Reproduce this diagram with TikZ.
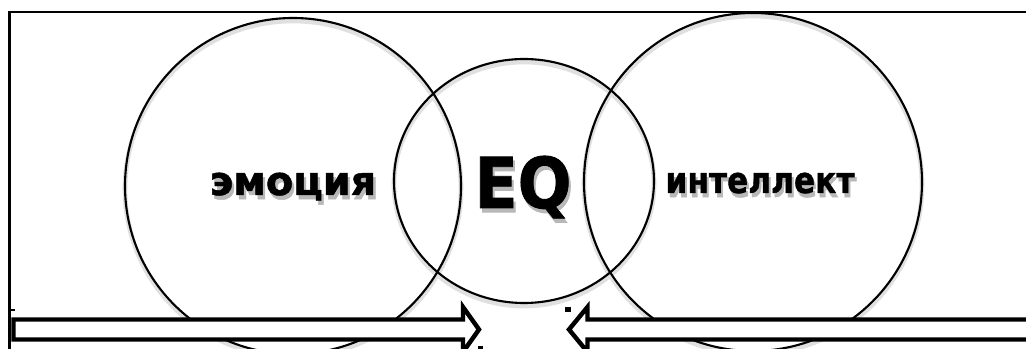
\documentclass[tikz,border=0pt]{standalone}
\usepackage{fontspec}
\setmainfont{DejaVu Sans}
\newfontfamily\heavy{DejaVu Sans Bold}[FakeBold=1.2]
\usepackage{tikz}
\usetikzlibrary{positioning,calc}
\definecolor{ink}{HTML}{000000}
\newcommand{\hazed}[1]{\rlap{\kern2pt\raisebox{-3.5pt}{\color{black!28}#1}}#1}
\tikzset{
  ring/.style={draw=ink, line width=1.8pt},
  ringhaze/.style={draw=black!12, line width=4pt},
  block/.style={draw=ink, line width=3.8pt, line join=miter, fill=white},
  word/.style={inner sep=0pt, anchor=base, text=ink},
}

\begin{document}
\begin{tikzpicture}[x=0.03cm, y=-0.03cm]
\useasboundingbox (0,0) rectangle (1026,349);
\fill[white] (0,0) rectangle (1026,349);
% frame
\draw[ink, line width=2.1pt] (9.5,349) -- (9.5,12) -- (1026,12);
\draw[ink, line width=2.1pt] (9.5,310) -- (15,310);
% circles, with a soft halo under each
\draw[ringhaze] (293,189) circle [radius=168];
\draw[ringhaze] (524,184) ellipse [x radius=130, y radius=122];
\draw[ringhaze] (753,185) circle [radius=169];
\draw[ring] (293,186) circle [radius=168];
\draw[ring] (524,181) ellipse [x radius=130, y radius=122];
\draw[ring] (753,182) circle [radius=169];
% labels
\node[word, font=\heavy\fontsize{34}{34}\selectfont] (emotion) at (293,195)
  {\hazed{эмоция}};
\node[word, font=\heavy\fontsize{60}{60}\selectfont] (eq) at (523,208)
  {\scalebox{0.9}[1]{\hazed{EQ}}};
\node[word, font=\heavy\fontsize{31}{31}\selectfont] (intellect) at (760,193)
  {\scalebox{0.86}[1]{\hazed{интеллект}}};
% arrows
\draw[block] (13.5,319.5) -- (463,319.5) -- (463,307) -- (479,329.5)
  -- (463,352) -- (463,339.5) -- (13.5,339.5) -- cycle;
\draw[block] (1040,319.5) -- (587.5,319.5) -- (587.5,307) -- (569,329.5)
  -- (587.5,352) -- (587.5,339.5) -- (1040,339.5);
% stray marks
\fill[ink] (478,346) rectangle (483,349);
\fill[ink] (565,307) rectangle (571,312);
\end{tikzpicture}
\end{document}
